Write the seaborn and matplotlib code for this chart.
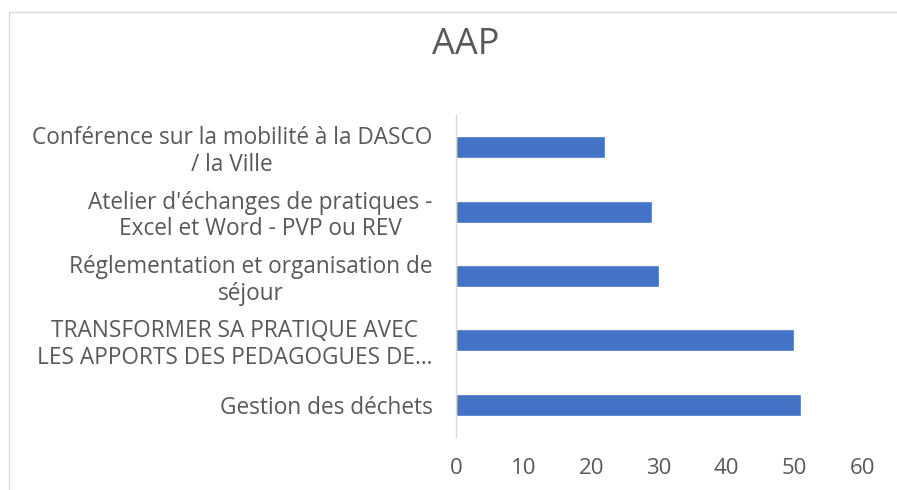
import pandas as pd
import matplotlib
matplotlib.use('Agg')
import matplotlib.pyplot as plt
import seaborn as sns
from matplotlib.patches import Rectangle

# data (top to bottom as shown)
categories = [
    "Conférence sur la mobilité à la DASCO\n/ la Ville",
    "Atelier d'échanges de pratiques -\nExcel et Word - PVP ou REV",
    "Réglementation et organisation de\nséjour",
    "TRANSFORMER SA PRATIQUE AVEC\nLES APPORTS DES PEDAGOGUES DE…",
    "Gestion des déchets",
]
values = [22, 29, 30, 50, 51]
x_ticks = [0, 10, 20, 30, 40, 50, 60]

df = pd.DataFrame({'formation': categories, 'nombre': values})

sns.set_theme(style='white')
plt.rcParams['font.family'] = ['Open Sans', 'DejaVu Sans']
grey = '#595959'

fig = plt.figure(figsize=(8.97, 4.90), dpi=100)
ax = fig.add_axes([456/897, 1 - 437/490, (862 - 456)/897, 322/490])

sns.barplot(data=df, x='nombre', y='formation', orient='h', color='#4472C4',
            width=0.34, saturation=1, ax=ax)

ax.set_xlim(0, 60)
ax.set_ylim(4.5, -0.5)
ax.set_xticks(x_ticks)
ax.set_xlabel('')
ax.set_ylabel('')
ax.tick_params(axis='x', length=0, pad=15, labelsize=16, labelcolor=grey)
ax.tick_params(axis='y', length=0, pad=17, labelsize=16.3, labelcolor=grey)
for lab in ax.get_yticklabels():
    lab.set_multialignment('center')
    lab.set_linespacing(1.15)

for s in ['top', 'right', 'bottom']:
    ax.spines[s].set_visible(False)
ax.spines['left'].set_color('#d9d9d9')
ax.spines['left'].set_linewidth(1)

fig.text(466/897, 1 - 45/490, 'AAP', ha='center', va='center',
         fontsize=26, color=grey)

# chart area border (cropped at right and bottom)
fig.patches.append(Rectangle((9/897, -0.1), 1.2, 1 - 12/490 + 0.1,
                             transform=fig.transFigure, fill=False,
                             edgecolor='#d9d9d9', linewidth=1, clip_on=False))

fig.savefig('out.png', dpi=100)
plt.close(fig)
